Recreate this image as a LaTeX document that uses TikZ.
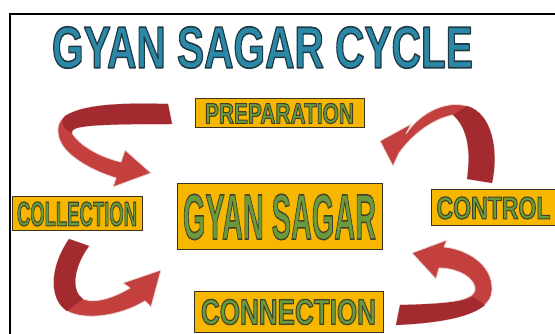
\documentclass[tikz,border=0pt]{standalone}
\usepackage{fontspec}
\setmainfont{Liberation Sans}
\usepackage{graphicx}
\definecolor{titleblue}{HTML}{2B88A6}
\definecolor{boxyellow}{HTML}{F7B700}
\definecolor{boxedge}{HTML}{3A3222}
\definecolor{lblgreen}{HTML}{6A9A3C}
\definecolor{arrowred}{HTML}{C4403F}
\definecolor{arrowdk}{HTML}{A32A2E}
\definecolor{arrowedge}{HTML}{EDD6D6}
% #1 fill colour, #2 stroke RGB (pdf), #3 stroke width, #4 width, #5 cap height, #6 text
\newcommand{\olbl}[6]{{\color{#1}\fontsize{\dimexpr #5*1000/716\relax}{\dimexpr #5*1200/716\relax}\selectfont\bfseries
  \resizebox{#4}{#5}{\special{pdf:code 2 Tr #3 w #2 RG 1 j}#6\special{pdf:code 0 Tr}}}}
\begin{document}
\begin{tikzpicture}[x=1pt,y=-1pt,
  box/.style={draw=boxedge, line width=1pt, fill=boxyellow, inner sep=0pt},
  arrowbody/.style={fill=arrowred, draw=arrowedge, line width=0.8pt, line join=round},
  arrowback/.style={fill=arrowdk}]
\useasboundingbox (0,0) rectangle (555,334);
\draw[line width=2pt] (10,340) -- (10,14) -- (556,14);
% title
\node[inner sep=0pt] (title) at (262.5,47.5) {\olbl{titleblue}{0.12 0.23 0.27}{1.6}{421pt}{41pt}{GYAN SAGAR CYCLE}};
% boxes
\node[box, minimum width=169pt, minimum height=29pt] (prep) at (279.5,113.5) {\olbl{lblgreen}{0.25 0.25 0.17}{1.1}{149pt}{20pt}{PREPARATION}};
\node[box, minimum width=205pt, minimum height=66pt] (gyan) at (279.5,217) {\olbl{lblgreen}{0.25 0.25 0.17}{1.4}{193pt}{45pt}{GYAN SAGAR}};
\node[box, minimum width=130pt, minimum height=34pt] (coll) at (77,214) {\olbl{lblgreen}{0.25 0.25 0.17}{1.1}{120pt}{24pt}{COLLECTION}};
\node[box, minimum width=125pt, minimum height=36pt] (ctrl) at (493.5,208) {\olbl{lblgreen}{0.25 0.25 0.17}{1.1}{114pt}{22pt}{CONTROL}};
\node[box, minimum width=189pt, minimum height=40pt] (conn) at (288.5,312) {\olbl{lblgreen}{0.25 0.25 0.17}{1.2}{175pt}{25pt}{CONNECTION}};
% arrow 1 (top left)
\path[arrowbody] (168,104) .. controls (130,103) and (85,103) .. (65,116) .. controls (54,124) and (56,141) .. (69,153) .. controls (82,165) and (100,173) .. (116,178) -- (113,187) -- (151,173) -- (125,150) -- (121,162) .. controls (100,157) and (80,146) .. (72,133) .. controls (70,126) and (90,124) .. (172,124) -- cycle;
\path[arrowback] (168,104) .. controls (130,103) and (85,103) .. (65,116) .. controls (60,121) and (62,128) .. (72,133) .. controls (70,126) and (90,124) .. (172,124) -- cycle;
% arrow 2 (top right)
\path[arrowbody] (467,179) -- (492,183) .. controls (499,150) and (492,113) .. (467,106) .. controls (445,100) and (420,113) .. (406,134) -- (411,124) -- (380,141) -- (393,166) -- (399,153) .. controls (412,135) and (432,119) .. (453,115) .. controls (468,128) and (471,152) .. (467,179) -- cycle;
\path[arrowback] (467,179) -- (492,183) .. controls (499,150) and (492,113) .. (467,106) -- (453,115) .. controls (468,128) and (471,152) .. (467,179) -- cycle;
% arrow 3 (bottom left)
\path[arrowbody] (69,239) -- (89,246) .. controls (73,268) and (71,291) .. (83,299) .. controls (96,304) and (115,297) .. (130,288) -- (123,283) -- (161,270) -- (151,307) -- (145,301) .. controls (120,316) and (85,321) .. (67,311) .. controls (50,300) and (48,270) .. (69,239) -- cycle;
\path[arrowback] (69,239) -- (89,246) .. controls (73,268) and (71,291) .. (83,299) -- (67,311) .. controls (50,300) and (48,270) .. (69,239) -- cycle;
% arrow 4 (bottom right)
\path[arrowbody] (400,305) -- (396,325) .. controls (440,323) and (492,316) .. (492,290) .. controls (493,264) and (466,249) .. (444,247) -- (447,240) -- (412,253) -- (436,279) -- (439,268) .. controls (460,268) and (477,280) .. (475,291) .. controls (471,302) and (440,304) .. (400,305) -- cycle;
\path[arrowback] (400,305) -- (396,325) .. controls (440,323) and (471,317) .. (485,305) -- (473,297) .. controls (464,302) and (440,304) .. (400,305) -- cycle;
\end{tikzpicture}
\end{document}
